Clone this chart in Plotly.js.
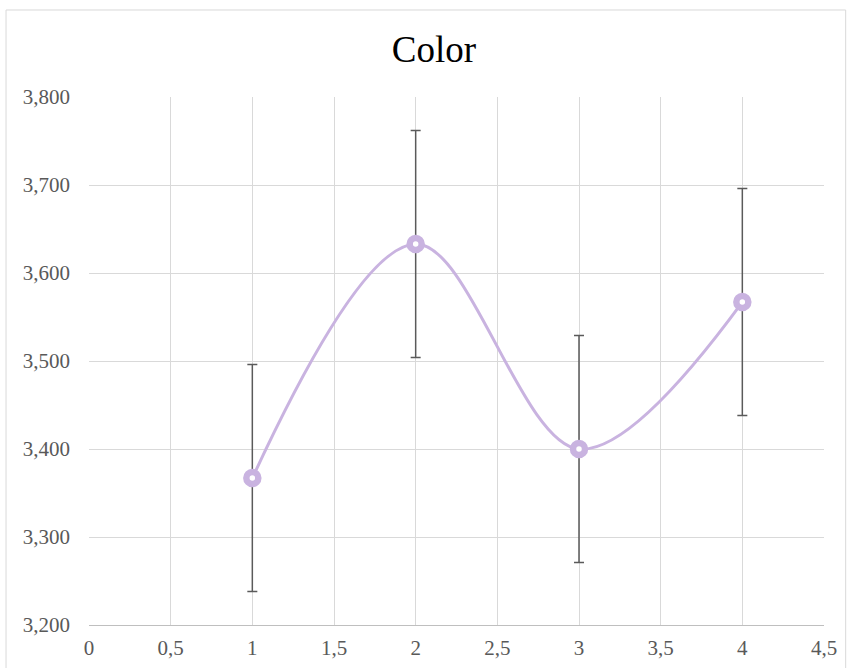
<!DOCTYPE html>
<html><head><meta charset="utf-8">
<script src="https://cdn.plot.ly/plotly-3.0.1.min.js"></script>
<style>html,body{margin:0;padding:0;background:#fff}#c{width:847px;height:668px}</style>
</head><body><div id="c"></div>
<script>
const xs = [1, 2, 3, 4];
const ys = [3.367, 3.633, 3.400, 3.567];
const errs = [0.129, 0.129, 0.129, 0.129];
const yTicks = [3.2, 3.3, 3.4, 3.5, 3.6, 3.7, 3.8];
const xTicks = [0, 0.5, 1, 1.5, 2, 2.5, 3, 3.5, 4, 4.5];

const font = "'Liberation Serif', 'Times New Roman', serif";
const trace = {
  x: xs, y: ys, type: 'scatter', mode: 'lines+markers',
  line: {shape: 'spline', smoothing: 1, color: '#c9b3e0', width: 3},
  marker: {symbol: 'circle', size: 12, color: '#ffffff', line: {color: '#c9b3e0', width: 6.5}},
  error_y: {type: 'data', array: errs, visible: true, color: '#5a5a5a', thickness: 1.5, width: 5}
};
const layout = {
  width: 847, height: 668,
  margin: {l: 89, r: 23, t: 97, b: 43},
  separators: ',.',
  paper_bgcolor: '#fff', plot_bgcolor: '#fff',
  showlegend: false,
  title: {text: 'Color', font: {family: font, size: 37, color: '#000'}, x: 0.5124, xanchor: 'center', y: 0.927, yanchor: 'middle'},
  xaxis: {range: [0, 4.5], tickvals: xTicks, showgrid: true, gridcolor: '#d9d9d9', gridwidth: 1,
    zeroline: false, showline: true, linecolor: '#bfbfbf', linewidth: 1, ticks: '',
    tickfont: {family: font, size: 21, color: '#595959'}, ticklabelstandoff: 4},
  yaxis: {range: [3.2, 3.8], tickvals: yTicks, tickformat: '.3f', showgrid: true, gridcolor: '#d9d9d9', gridwidth: 1,
    zeroline: false, showline: false, ticks: '',
    tickfont: {family: font, size: 21, color: '#595959'}, ticklabelstandoff: 18},
  shapes: [{type: 'rect', xref: 'paper', yref: 'paper', x0: -0.1129, x1: 1.0295, y0: -0.2, y1: 1.1648,
    line: {color: '#d9d9d9', width: 1}, fillcolor: 'rgba(0,0,0,0)', layer: 'below'}]
};
Plotly.newPlot('c', [trace], layout, {displayModeBar: false, staticPlot: true});
</script></body></html>
